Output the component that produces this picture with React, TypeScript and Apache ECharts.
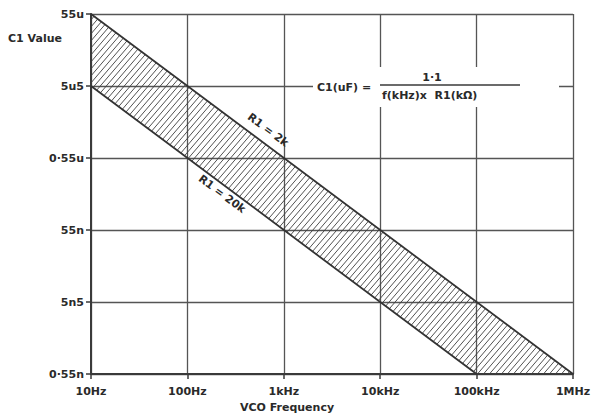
import React, { useEffect, useRef } from "react";
import * as echarts from "echarts";

// Frequency (Hz) and C1 (uF) end points of the two boundary lines
const freqR2k = [10, 1e6];
const capR2k = [55, 0.00055];
const freqR20k = [10, 1e5];
const capR20k = [5.5, 0.00055];

// y axis: reference unit is the lowest tick, 0.55 nF
const capBase = 0.00055;
const yTickLabels = ["0·55n", "5n5", "55n", "0·55u", "5u5", "55u"];
const xTickLabels = ["10Hz", "100Hz", "1kHz", "10kHz", "100kHz", "1MHz"];

const INK = "#333333";
const FONT = "DejaVu Sans";

const hatchSvg =
  "<svg xmlns='http://www.w3.org/2000/svg' width='6' height='7'>" +
  "<path d='M0,7 L6,0 M-1,1.17 L1,-1.17 M5,8.17 L7,5.83' stroke='#3c3c3c' stroke-width='0.9' fill='none'/></svg>";
const hatchUrl = "data:image/svg+xml;charset=utf-8," + encodeURIComponent(hatchSvg);

export default function App() {
  const ref = useRef<HTMLDivElement>(null);
  useEffect(() => {
    if (!ref.current) return;
    const chart = echarts.init(ref.current, null, { renderer: "svg" });
    const line2k = freqR2k.map((f, i) => [f, capR2k[i] / capBase]);
    const line20k = freqR20k.map((f, i) => [f, capR20k[i] / capBase]);
    const polygon = [...line2k, ...line20k.slice().reverse()];

    chart.setOption({
      animation: false,
      backgroundColor: "#ffffff",
      grid: { left: 91, right: 23, top: 14, bottom: 42 },
      xAxis: {
        type: "log",
        logBase: 10,
        min: 10,
        max: 1e6,
        axisLine: { show: true, lineStyle: { color: "#3a3a3a", width: 2 } },
        axisTick: { show: true, length: 5, lineStyle: { color: "#3a3a3a", width: 1.5 } },
        minorTick: { show: false },
        splitLine: { show: true, lineStyle: { color: "#555555", width: 1.3 } },
        axisLabel: {
          margin: 12,
          color: "#2a2a2a",
          fontFamily: FONT,
          fontWeight: "bold",
          fontSize: 11,
          formatter: (v: number) => xTickLabels[Math.round(Math.log10(v)) - 1] ?? "",
        },
      },
      yAxis: {
        type: "log",
        logBase: 10,
        min: 1,
        max: 1e5,
        axisLine: { show: true, lineStyle: { color: "#3a3a3a", width: 2 } },
        axisTick: { show: true, length: 5, lineStyle: { color: "#3a3a3a", width: 1.5 } },
        splitLine: { show: true, lineStyle: { color: "#555555", width: 1.3 } },
        axisLabel: {
          margin: 7,
          color: "#2a2a2a",
          fontFamily: FONT,
          fontWeight: "bold",
          fontSize: 11,
          formatter: (v: number) => yTickLabels[Math.round(Math.log10(v))] ?? "",
        },
      },
      series: [
        {
          type: "custom",
          silent: true,
          z: 1,
          data: [0],
          renderItem: (params: any, api: any) => ({
            type: "polygon",
            shape: { points: polygon.map((p) => api.coord(p)) },
            style: {
              fill: { image: hatchUrl, repeat: "repeat", imageWidth: 6, imageHeight: 7 },
              stroke: "none",
            },
          }),
        },
        {
          type: "line",
          name: "R1 = 2k",
          data: line2k,
          showSymbol: false,
          z: 3,
          lineStyle: { color: INK, width: 1.8 },
        },
        {
          type: "line",
          name: "R1 = 20k",
          data: line20k,
          showSymbol: false,
          z: 3,
          lineStyle: { color: INK, width: 1.8 },
        },
      ],
      graphic: [
        {
          type: "text",
          z: 100,
          x: 8,
          y: 38,
          style: {
            text: "C1 Value",
            fill: "#2a2a2a",
            font: `bold 11px '${FONT}'`,
            verticalAlign: "middle",
            align: "left",
          },
        },
        {
          type: "text",
          z: 100,
          x: 287,
          y: 407,
          style: {
            text: "VCO Frequency",
            fill: "#2a2a2a",
            font: `bold 11px '${FONT}'`,
            verticalAlign: "middle",
            align: "center",
          },
        },
        {
          type: "text",
          z: 100,
          x: 268,
          y: 130,
          rotation: -0.64,
          style: {
            text: "R1 = 2k",
            fill: "#2a2a2a",
            font: `bold 11px '${FONT}'`,
            verticalAlign: "middle",
            align: "center",
          },
        },
        {
          type: "text",
          z: 100,
          x: 222,
          y: 194,
          rotation: -0.64,
          style: {
            text: "R1 = 20k",
            fill: "#2a2a2a",
            font: `bold 11px '${FONT}'`,
            verticalAlign: "middle",
            align: "center",
          },
        },
        {
          type: "rect",
          z: 99,
          shape: { x: 313, y: 67, width: 246, height: 40 },
          style: { fill: "#ffffff" },
        },
        {
          type: "text",
          z: 100,
          x: 317,
          y: 87,
          style: {
            text: "C1(uF) =",
            fill: "#2a2a2a",
            font: `bold 11px '${FONT}'`,
            verticalAlign: "middle",
            align: "left",
          },
        },
        {
          type: "line",
          z: 100,
          shape: { x1: 380, y1: 85, x2: 520, y2: 85 },
          style: { stroke: "#3a3a3a", lineWidth: 1.4 },
        },
        {
          type: "text",
          z: 100,
          x: 432,
          y: 77,
          style: {
            text: "1·1",
            fill: "#2a2a2a",
            font: `bold 11px '${FONT}'`,
            verticalAlign: "middle",
            align: "center",
          },
        },
        {
          type: "text",
          z: 100,
          x: 382,
          y: 95,
          style: {
            text: "f(kHz)x  R1(kΩ)",
            fill: "#2a2a2a",
            font: `bold 11px '${FONT}'`,
            verticalAlign: "middle",
            align: "left",
          },
        },
      ],
    });
    return () => chart.dispose();
  }, []);
  return (
    <div
      ref={ref}
      style={{ position: "absolute", left: 0, top: 0, width: 596, height: 416, overflow: "hidden" }}
    />
  );
}
